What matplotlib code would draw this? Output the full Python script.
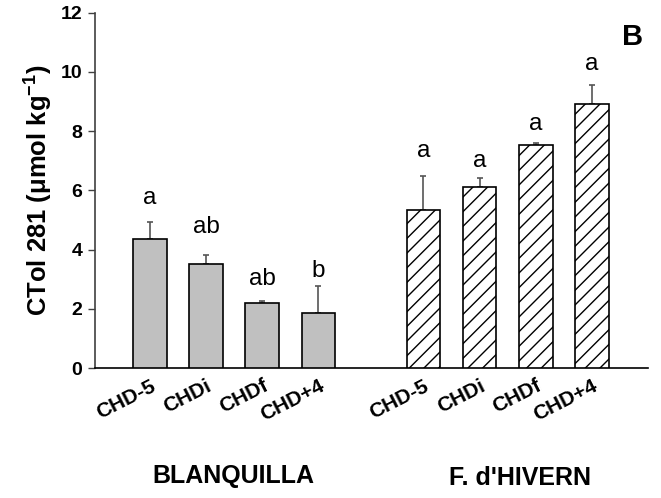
import matplotlib.pyplot as plt

# render at a lower dpi so the '//' hatch comes out as dense as the original;
# sizes below are multiplied by S to keep them at their 100-dpi pixel size
DPI = 88
S = 100 / DPI

plt.rcParams['font.family'] = ['Liberation Sans', 'DejaVu Sans']
plt.rcParams['mathtext.fontset'] = 'custom'
plt.rcParams['mathtext.rm'] = 'Liberation Sans'
plt.rcParams['mathtext.bf'] = 'Liberation Sans:bold'
plt.rcParams['hatch.linewidth'] = 1.0 * S

# data
treatments = ["CHD-5", "CHDi", "CHDf", "CHD+4"]
blanq_mean = [4.35, 3.50, 2.21, 1.85]
blanq_err = [0.57, 0.32, 0.06, 0.93]
blanq_letters = ["a", "ab", "ab", "b"]
blanq_letter_y = [5.53, 4.55, 2.80, 3.06]
hiv_mean = [5.35, 6.11, 7.52, 8.92]
hiv_err = [1.13, 0.31, 0.07, 0.64]
hiv_letters = ["a", "a", "a", "a"]
hiv_letter_y = [7.14, 6.80, 8.04, 10.07]
groups = ["BLANQUILLA", "F. d'HIVERN"]

x1 = [1, 2, 3, 4]
x2 = [5.87, 6.87, 7.87, 8.87]
w = 0.6

fig = plt.figure(figsize=(661 / DPI, 498 / DPI), dpi=DPI)
ax = fig.add_axes([0.1437, 0.261, 0.8366, 0.7134])

ax.bar(x1, blanq_mean, w, color="#c0c0c0", edgecolor="black", linewidth=1.2 * S, zorder=3)
ax.bar(x2, hiv_mean, w, color="white", edgecolor="black", linewidth=1.2 * S,
       hatch="//", zorder=3)
ax.errorbar(x1, blanq_mean, yerr=[[0] * 4, blanq_err], fmt="none", ecolor="#555555",
            elinewidth=1.2 * S, capsize=2.5 * S, capthick=1.2 * S, zorder=2)
ax.errorbar(x2, hiv_mean, yerr=[[0] * 4, hiv_err], fmt="none", ecolor="#555555",
            elinewidth=1.2 * S, capsize=2.5 * S, capthick=1.2 * S, zorder=2)

for x, y, t in zip(x1 + x2, blanq_letter_y + hiv_letter_y, blanq_letters + hiv_letters):
    ax.text(x, y, t, ha="center", va="baseline", fontsize=17.5 * S)

ax.set_xlim(0.02, 9.87)
ax.set_ylim(0, 12)
ax.set_yticks(range(0, 13, 2))
ax.set_xticks(x1 + x2)
ax.set_xticklabels(treatments + treatments, rotation=27, ha="right",
                   rotation_mode="anchor", fontsize=15 * S, fontweight="bold")
ax.tick_params(axis="x", length=0, pad=6 * S)
ax.tick_params(axis="y", length=5 * S, width=1 * S, pad=4 * S, labelsize=14 * S,
               color="#404040")
for lab in ax.get_yticklabels():
    lab.set_fontweight("bold")
for s in ["top", "right"]:
    ax.spines[s].set_visible(False)
ax.spines["left"].set_color("#404040")
ax.spines["bottom"].set_color("black")
ax.spines["left"].set_linewidth(1.2 * S)
ax.spines["bottom"].set_linewidth(1.2 * S)

ax.set_ylabel(r"CTol 281 (μmol kg$^{\mathbf{-1}}$)", fontsize=18.5 * S,
              fontweight="bold", labelpad=5 * S)

fig.text(233 / 661, 1 - 476 / 498, groups[0], ha="center", va="center",
         fontsize=18 * S, fontweight="bold")
fig.text(520 / 661, 1 - 478 / 498, groups[1], ha="center", va="center",
         fontsize=18 * S, fontweight="bold")
fig.text(633 / 661, 1 - 37 / 498, "B", ha="center", va="center",
         fontsize=21 * S, fontweight="bold")

fig.savefig("out.png", dpi=DPI)
